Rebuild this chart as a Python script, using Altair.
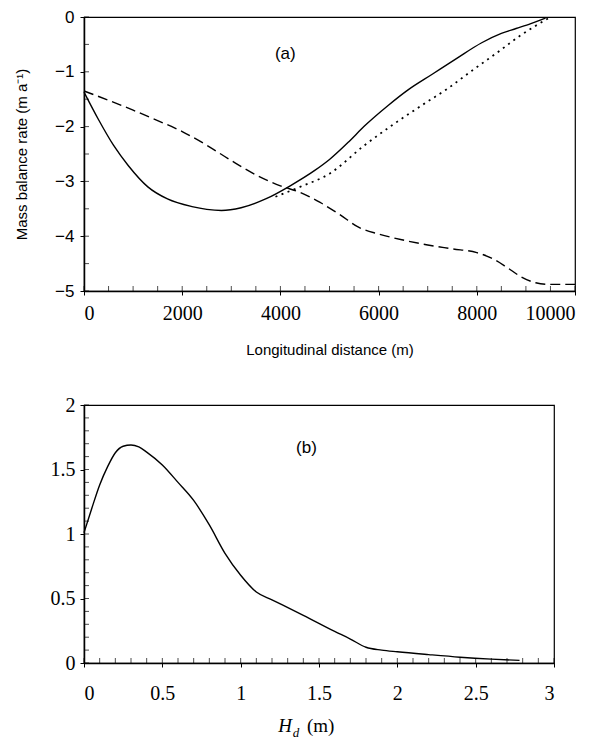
import altair as alt
import pandas as pd

# ---------------- data: panel (a) ----------------
solid_x = [0, 300, 600, 900, 1300, 1700, 2200, 2500, 2800, 3200, 3700, 4200, 4700,
           5000, 5400, 5700, 6200, 6600, 7100, 7600, 8100, 8500, 8800, 9100, 9400]
solid_y = [-1.37, -1.88, -2.34, -2.71, -3.10, -3.32, -3.46, -3.51, -3.53, -3.48, -3.32,
           -3.08, -2.80, -2.60, -2.27, -2.00, -1.61, -1.33, -1.04, -0.75, -0.47, -0.30,
           -0.21, -0.12, -0.02]

dotted_x = [3900, 4400, 5000, 5700, 6300, 6900, 7400, 7900, 8400, 8900, 9200, 9500]
dotted_y = [-3.28, -3.10, -2.86, -2.35, -1.96, -1.60, -1.31, -0.98, -0.66, -0.33, -0.16, 0.0]

dashed_x = [0, 500, 1000, 1500, 2000, 2500, 3000, 3500, 4000, 4400, 4800, 5200, 5600,
            6000, 6500, 7000, 7500, 8000, 8300, 8600, 8900, 9200, 9500, 10000]
dashed_y = [-1.35, -1.52, -1.70, -1.89, -2.09, -2.34, -2.62, -2.88, -3.08, -3.20, -3.38,
            -3.60, -3.84, -3.96, -4.07, -4.16, -4.23, -4.30, -4.40, -4.56, -4.74, -4.85,
            -4.88, -4.88]

# ---------------- data: panel (b) ----------------
b_x = [0, 0.05, 0.1, 0.15, 0.2, 0.25, 0.3, 0.35, 0.4, 0.5, 0.6, 0.7, 0.8, 0.9, 1.0,
       1.1, 1.2, 1.4, 1.6, 1.7, 1.8, 1.9, 2.0, 2.2, 2.4, 2.6, 2.78]
b_y = [1.01, 1.20, 1.38, 1.52, 1.63, 1.68, 1.69, 1.675, 1.635, 1.535, 1.40, 1.26, 1.07,
       0.85, 0.68, 0.55, 0.49, 0.37, 0.245, 0.186, 0.122, 0.10, 0.087, 0.065, 0.045,
       0.03, 0.02]

# tick positions / labels
a_x_labels = [0, 2000, 4000, 6000, 8000, 10000]
a_y_labels = [0, -1, -2, -3, -4, -5]
a_x_minor = list(range(0, 10001, 500))
a_y_minor = [0, -0.5, -1, -1.5, -2, -2.5, -3, -3.5, -4, -4.5, -5]
b_x_labels = [0, 0.5, 1, 1.5, 2, 2.5, 3]
b_y_labels = [0, 0.5, 1, 1.5, 2]
b_x_minor = [i / 10 for i in range(0, 31)]
b_y_minor = [i / 10 for i in range(0, 21)]

panel_a_label = ["(a)"]
panel_a_pos = [4100, -0.68]
panel_b_label = ["(b)"]
panel_b_pos = [1.42, 1.67]

W1, H1 = 491, 274
W2, H2 = 470, 258
SANS = "Liberation Sans"
SERIF = "Liberation Serif"

sx1 = alt.Scale(domain=[0, 10000], nice=False, zero=False)
sy1 = alt.Scale(domain=[-5, 0], nice=False, zero=False)
sx2 = alt.Scale(domain=[0, 3], nice=False, zero=False)
sy2 = alt.Scale(domain=[0, 2], nice=False, zero=False)

common = dict(grid=False, domainColor="black", domainWidth=1.5, tickColor="black",
              labelColor="black", titleColor="black", tickSize=4)

ax_x1 = alt.Axis(values=a_x_labels, title="Longitudinal distance (m)", labelFont=SERIF,
                 labelFontSize=20, titleFont=SANS, titleFontSize=15, titleFontWeight="normal",
                 titlePadding=19, labelPadding=8, format="d", **common)
ax_y1 = alt.Axis(values=a_y_labels, title="Mass balance rate (m a\u207b\u00b9)", labelFont=SANS,
                 labelFontSize=17, titleFont=SANS, titleFontSize=15, titleFontWeight="normal",
                 titlePadding=25, labelPadding=6, format="d",
                 labelExpr="replace(datum.label, '-', '\u2212')", **common)
ax_x2 = alt.Axis(values=b_x_labels, title=None, labelFont=SERIF, labelFontSize=20,
                 labelPadding=16, format="~g", **common)
ax_y2 = alt.Axis(values=b_y_labels, title=None, labelFont=SERIF, labelFontSize=20,
                 labelPadding=5, format="~g", **common)


def line(xs, ys, sx, sy, axx, axy, width=1.4, **kw):
    df = pd.DataFrame({"x": xs, "y": ys})
    return alt.Chart(df).mark_line(color="black", strokeWidth=width, interpolate="monotone", **kw).encode(
        x=alt.X("x:Q", scale=sx, axis=axx),
        y=alt.Y("y:Q", scale=sy, axis=axy),
    )


def xticks(vals, sx, axx, h, size):
    return alt.Chart(pd.DataFrame({"x": vals})).mark_tick(
        orient="vertical", size=size, yOffset=-size / 2, color="black", thickness=1
    ).encode(x=alt.X("x:Q", scale=sx, axis=axx), y=alt.value(h))


def yticks(vals, sy, axy, size):
    return alt.Chart(pd.DataFrame({"y": vals})).mark_tick(
        orient="horizontal", size=size, xOffset=size / 2, color="black", thickness=1
    ).encode(y=alt.Y("y:Q", scale=sy, axis=axy), x=alt.value(0))


lab_a = alt.Chart(pd.DataFrame({"x": [panel_a_pos[0]], "y": [panel_a_pos[1]], "t": panel_a_label})).mark_text(
    font=SANS, fontSize=17, color="black").encode(
    x=alt.X("x:Q", scale=sx1, axis=ax_x1), y=alt.Y("y:Q", scale=sy1, axis=ax_y1), text="t:N")
lab_b = alt.Chart(pd.DataFrame({"x": [panel_b_pos[0]], "y": [panel_b_pos[1]], "t": panel_b_label})).mark_text(
    font=SANS, fontSize=17, color="black").encode(
    x=alt.X("x:Q", scale=sx2, axis=ax_x2), y=alt.Y("y:Q", scale=sy2, axis=ax_y2), text="t:N")

top = alt.layer(
    line(solid_x, solid_y, sx1, sy1, ax_x1, ax_y1),
    line(dashed_x, dashed_y, sx1, sy1, ax_x1, ax_y1, strokeDash=[10, 5]),
    line(dotted_x, dotted_y, sx1, sy1, ax_x1, ax_y1, width=1.8, strokeDash=[2, 4.5]),
    xticks(a_x_minor, sx1, ax_x1, H1, 5),
    yticks(a_y_minor, sy1, ax_y1, 5),
    lab_a,
).properties(width=W1, height=H1)

# H_d (m) title pieces
t_H = alt.Chart(pd.DataFrame({"t": ["H"]})).mark_text(
    font=SERIF, fontSize=19, fontStyle="italic", color="black", align="center", baseline="middle"
).encode(x=alt.value(W2 / 2 - 34), y=alt.value(H2 + 63), text="t:N")
t_d = alt.Chart(pd.DataFrame({"t": ["d"]})).mark_text(
    font=SERIF, fontSize=13, fontStyle="italic", color="black", align="center", baseline="middle"
).encode(x=alt.value(W2 / 2 - 23), y=alt.value(H2 + 70), text="t:N")
t_m = alt.Chart(pd.DataFrame({"t": ["(m)"]})).mark_text(
    font=SERIF, fontSize=19, color="black", align="left", baseline="middle"
).encode(x=alt.value(W2 / 2 - 12), y=alt.value(H2 + 63), text="t:N")

bottom = alt.layer(
    line(b_x, b_y, sx2, sy2, ax_x2, ax_y2),
    xticks(b_x_minor, sx2, ax_x2, H2, 5),
    yticks(b_y_minor, sy2, ax_y2, 5),
    lab_b, t_H, t_d, t_m,
).properties(width=W2, height=H2)

chart = alt.vconcat(top, bottom, spacing=36).configure(
    padding={"left": 6, "top": -1, "right": 5, "bottom": 0},
    background="white",
).configure_view(stroke="black", strokeWidth=1.2)

chart.save("out.html", embed_options={"renderer": "svg", "actions": False})
